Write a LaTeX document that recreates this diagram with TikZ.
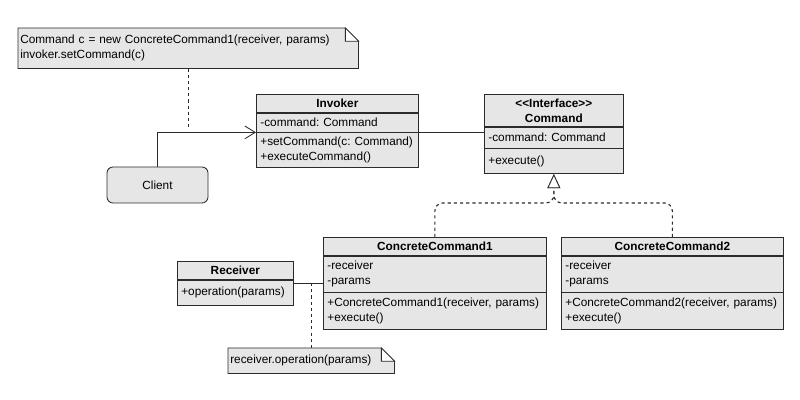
\documentclass[tikz,border=0pt]{standalone}
\usepackage{fontspec}
\newfontfamily\umlfont{Liberation Sans}
\usepackage{tikz}
\usetikzlibrary{arrows.meta,positioning,calc,backgrounds}
\definecolor{BoxFill}{HTML}{E6E6E6}
\definecolor{BoxLine}{HTML}{2B2B2B}
\newcommand{\umlsize}{\fontsize{8.4}{10.6}\selectfont\frenchspacing}

\begin{document}
\begin{tikzpicture}[
font=\umlfont\umlsize,
hdr/.style={draw=BoxLine,fill=BoxFill,line width=0.5pt,anchor=north west,minimum width=#1,minimum height=4.5mm,inner sep=0pt,align=center,font=\umlfont\umlsize\bfseries},
sect/.style={draw=BoxLine,fill=BoxFill,line width=0.5pt,text width=#1,inner xsep=1mm,inner ysep=0pt,align=left,font=\umlfont\umlsize},
note/.style={anchor=north west,text width=#1,inner xsep=0.5mm,inner ysep=0pt,align=left,font=\umlfont\umlsize},
notebox/.style={draw=BoxLine,fill=BoxFill,line width=0.6pt,line join=miter},
client/.style={draw=BoxLine,fill=BoxFill,line width=0.6pt,rounded corners=1.5mm,minimum width=2.525cm,minimum height=9mm,font=\umlfont\umlsize},
nav/.style={-{Straight Barb[length=2.6mm,width=3.2mm]},line width=0.6pt,draw=BoxLine},
assoc/.style={line width=1.1pt,draw=BoxLine},
realize/.style={-{Triangle[length=3.5mm,width=3.2mm,fill=white,line width=0.6pt]},line width=0.8pt,dash pattern=on 2.2pt off 2.2pt,rounded corners=2mm,draw=BoxLine},
anchorline/.style={line width=0.8pt,dash pattern=on 2.2pt off 2.2pt,draw=BoxLine}
]
\useasboundingbox (0,0) rectangle (20,10);

% notes
\node[note=8.4cm,minimum height=1cm] (note1) at (0.45,9.3) {Command c = new ConcreteCommand1(receiver, params)\\invoker.setCommand(c)};
\node[note=4.05cm,minimum height=6.25mm] (note2) at (5.7,1.3) {receiver.operation(params)};
\begin{scope}[on background layer]
\foreach \n in {note1,note2}{
  \filldraw[notebox] (\n.south west) -- (\n.north west) -- ([xshift=-3.3mm]\n.north east) -- ([yshift=-3.3mm]\n.north east) -- (\n.south east) -- cycle;
  \filldraw[notebox,fill=white] ([xshift=-3.3mm]\n.north east) |- ([yshift=-3.3mm]\n.north east) -- cycle;
}
\end{scope}

% classes
\node[hdr=4.05cm] (invh) at (6.4,7.65) {Invoker};
\node[sect=3.85cm,minimum height=4.75mm,below=0pt of invh] (inva) {-command: Command};
\node[sect=3.85cm,minimum height=8.75mm,below=0pt of inva] (invo) {+setCommand(c: Command)\\+executeCommand()};

\node[hdr=3.475cm,minimum height=8mm] (cmdh) at (12.1,7.65) {<<Interface>>\\Command};
\node[sect=3.275cm,minimum height=5.25mm,below=0pt of cmdh] (cmda) {-command: Command};
\node[sect=3.275cm,minimum height=6.25mm,below=0pt of cmda] (cmdo) {+execute()};

\node[hdr=5.575cm] (cc1h) at (8.075,4.075) {ConcreteCommand1};
\node[sect=5.375cm,minimum height=9mm,below=0pt of cc1h] (cc1a) {-receiver\\-params};
\node[sect=5.375cm,minimum height=9.25mm,below=0pt of cc1a] (cc1o) {+ConcreteCommand1(receiver, params)\\+execute()};

\node[hdr=5.55cm] (cc2h) at (14.025,4.075) {ConcreteCommand2};
\node[sect=5.35cm,minimum height=9mm,below=0pt of cc2h] (cc2a) {-receiver\\-params};
\node[sect=5.35cm,minimum height=9.25mm,below=0pt of cc2a] (cc2o) {+ConcreteCommand2(receiver, params)\\+execute()};

\node[hdr=2.9cm] (rech) at (4.425,3.475) {Receiver};
\node[sect=2.7cm,minimum height=6.25mm,below=0pt of rech] (reco) {+operation(params)};

\node[client] (client) at (3.9375,5.375) {Client};

% connectors
\draw[nav] (client.north) |- (invo.north west);
\draw[assoc] (invo.north east) -- (invo.north east -| cmdh.west);
\draw[realize] (cc1h.north) -- ++(0,0.85) -| (cmdo.south);
\draw[realize] (cc2h.north) -- ++(0,0.85) -| (cmdo.south);
\coordinate (recline) at ([yshift=-1mm]reco.north east);
\draw[assoc] (recline) -- (recline -| cc1a.west);
\draw[anchorline,shorten >=1mm] (note1.south) -- (note1.south |- invo.north west);
\draw[anchorline] (note2.north) -- (note2.north |- recline);
\end{tikzpicture}
\end{document}
